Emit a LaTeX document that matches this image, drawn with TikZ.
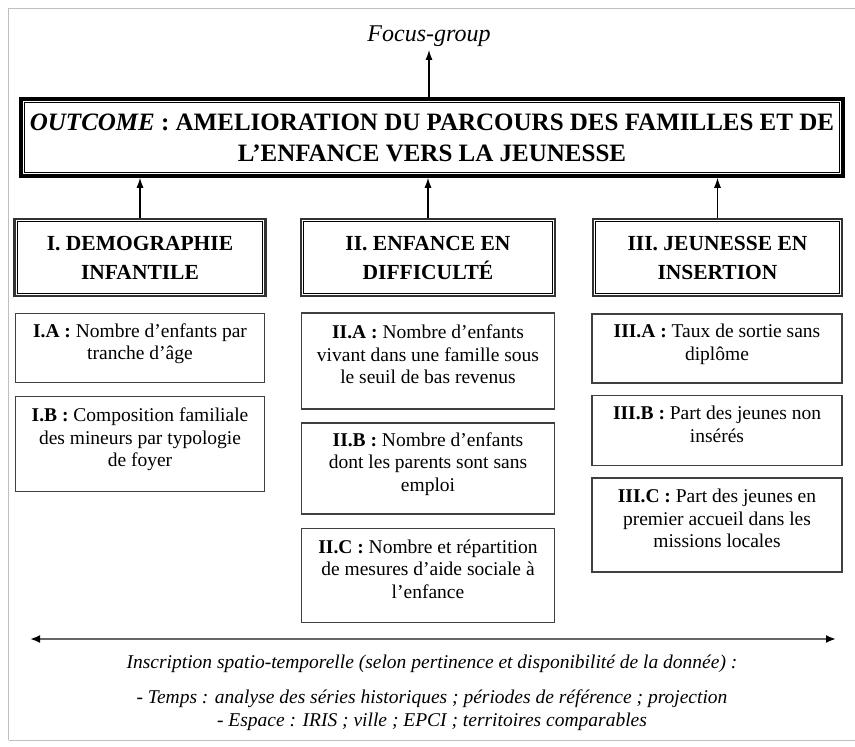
\documentclass[tikz,border=0pt]{standalone}
\usepackage{fontspec}
\setmainfont{Liberation Serif}
\usetikzlibrary{arrows.meta}

\begin{document}
\begin{tikzpicture}[x=1pt, y=-1pt,
  titlebox/.style={draw, line width=3.5pt, inner sep=0pt, minimum width=822pt, minimum height=77pt, align=center, font=\bfseries\fontsize{25}{31}\selectfont},
  axisbox/.style={draw=black!80, line width=2.4pt, inner sep=0pt, minimum height=77pt, align=center, font=\bfseries\fontsize{21.5}{29}\selectfont},
  itembox/.style={draw=black!75, line width=1.2pt, inner sep=0pt, text depth=13pt, align=center, font=\fontsize{19.5}{22.5}\selectfont},
  note/.style={font=\itshape\fontsize{19.5}{23}\selectfont},
  uparrow/.style={-{Latex[length=10pt,width=7pt]}, line width=1.2pt}]

\useasboundingbox (0,0) rectangle (855,747);
\draw[black!25, line width=1pt] (8.5,740) -- (8.5,8.5) -- (855,8.5);
\draw[black!25, line width=1pt] (8.5,740) -- (855,740);

\node[note, font=\itshape\fontsize{24}{27}\selectfont] (focus) at (429,36) {Focus-group};
\node[titlebox] (outcome) at (432,137.5) {\textit{OUTCOME} : AMELIORATION DU PARCOURS DES FAMILLES ET DE\\L’ENFANCE VERS LA JEUNESSE};

\node[axisbox, minimum width=251pt] (demo) at (140,257.5) {I. DEMOGRAPHIE\\INFANTILE};
\node[axisbox, minimum width=254pt] (enf) at (428,257.5) {II. ENFANCE EN\\DIFFICULTÉ};
\node[axisbox, minimum width=249pt] (jeu) at (717.5,257.5) {III. JEUNESSE EN\\INSERTION};

\foreach \n/\d in {outcome/5.5, demo/4, enf/4, jeu/4}
  \draw[line width=1pt] ([shift={(\d,\d)}]\n.north west) rectangle ([shift={(-\d,-\d)}]\n.south east);

\draw[uparrow] (focus.south |- outcome.north) -- (focus.south);
\draw[uparrow] (demo.north) -- (demo.north |- outcome.south);
\draw[uparrow] (enf.north) -- (enf.north |- outcome.south);
\draw[uparrow] (jeu.north) -- (jeu.north |- outcome.south);

\node[itembox, minimum width=249pt, minimum height=69pt] (ia) at (140,348) {\textbf{I.A :} Nombre d’enfants par\\tranche d’âge};
\node[itembox, minimum width=249pt, minimum height=95pt] (ib) at (140,444) {\textbf{I.B :} Composition familiale\\des mineurs par typologie\\de foyer};

\node[itembox, minimum width=253pt, minimum height=96pt] (iia) at (428,361) {\textbf{II.A :} Nombre d’enfants\\vivant dans une famille sous\\le seuil de bas revenus};
\node[itembox, minimum width=253pt, minimum height=91pt] (iib) at (428,468.5) {\textbf{II.B :} Nombre d’enfants\\dont les parents sont sans\\emploi};
\node[itembox, minimum width=253pt, minimum height=94pt] (iic) at (428,575.5) {\textbf{II.C :} Nombre et répartition\\de mesures d’aide sociale à\\l’enfance};

\node[itembox, minimum width=250pt, minimum height=69pt] (iiia) at (717,348.5) {\textbf{III.A :} Taux de sortie sans\\diplôme};
\node[itembox, minimum width=250pt, minimum height=70pt] (iiib) at (717,430.5) {\textbf{III.B :} Part des jeunes non\\insérés};
\node[itembox, minimum width=250pt, minimum height=94pt] (iiic) at (717,525) {\textbf{III.C :} Part des jeunes en\\premier accueil dans les\\missions locales};

\coordinate (tl) at (30,639);
\coordinate (tr) at (836,639);
\draw[{Latex[color=black,length=10pt,width=8pt]}-{Latex[color=black,length=10pt,width=8pt]}, black!60, line width=2pt] (tl) -- (tr);

\node[note] (insc) at (432,664) {Inscription spatio-temporelle (selon pertinence et disponibilité de la donnée) :};
\node[note, align=center] (dims) at (432,710) {- Temps : analyse des séries historiques ; périodes de référence ; projection\\- Espace : IRIS ; ville ; EPCI ; territoires comparables};

\end{tikzpicture}
\end{document}
